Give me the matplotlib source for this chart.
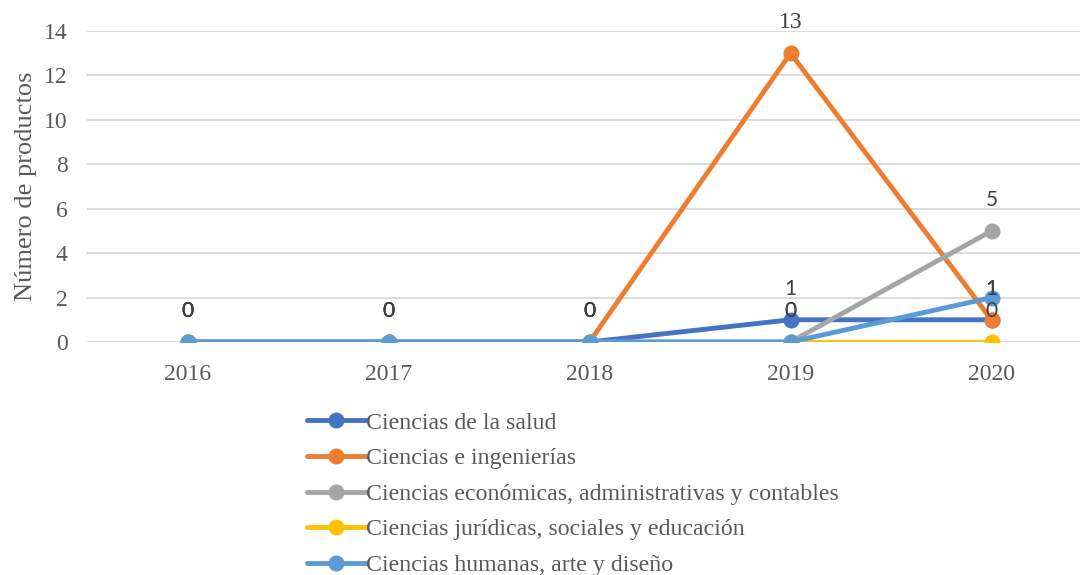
import matplotlib.pyplot as plt

# Datos
YEARS = ["2016", "2017", "2018", "2019", "2020"]
SALUD = [0, 0, 0, 1, 1]
INGENIERIAS = [0, 0, 0, 13, 1]
ECONOMICAS = [0, 0, 0, 0, 5]
JURIDICAS = [0, 0, 0, 0, 0]
HUMANAS = [0, 0, 0, 0, 2]

SERIES = [
    ("Ciencias de la salud", SALUD, "#4472C4", True),
    ("Ciencias e ingenierías", INGENIERIAS, "#ED7D31", True),
    ("Ciencias económicas, administrativas y contables", ECONOMICAS, "#A5A5A5", True),
    ("Ciencias jurídicas, sociales y educación", JURIDICAS, "#FFC000", True),
    ("Ciencias humanas, arte y diseño", HUMANAS, "#5B9BD5", False),
]

SERIF = "Liberation Serif"
GREY = "#595959"

fig = plt.figure(figsize=(10.8, 5.75), dpi=100)
ax = fig.add_axes([87 / 1080, 233 / 575, 1 - 87 / 1080, 311 / 575])

x = list(range(len(YEARS)))
for name, vals, color, _ in SERIES:
    ax.plot(x, vals, color=color, lw=3.5, marker="o", ms=10.5, label=name,
            solid_capstyle="round", zorder=3)

# etiquetas de datos (la serie de humanas no las tiene)
for name, vals, color, labelled in SERIES:
    if not labelled:
        continue
    for xi, v in zip(x, vals):
        big = v >= 10
        ax.annotate(f"{v}", (xi, v), xytext=(0, 22), textcoords="offset points",
                    ha="center", va="center", fontsize=17 if big else 15,
                    color="#404040", family=SERIF if big else "Lato", zorder=5)

ax.set_xlim(-0.5, 4.44)
ax.set_ylim(0, 14)
ax.set_yticks(range(0, 15, 2))
ax.set_xticks(x)
ax.set_xticklabels(YEARS)
ax.grid(axis="y", color="#D9D9D9", lw=1.3, zorder=0)
for s in ax.spines.values():
    s.set_visible(False)
ax.tick_params(length=0, labelsize=17, labelcolor=GREY)
ax.tick_params(axis="y", pad=14)
ax.tick_params(axis="x", pad=16)
for lab in ax.get_xticklabels() + ax.get_yticklabels():
    lab.set_family(SERIF)
ax.set_ylabel("Número de productos", family=SERIF, fontsize=19, color=GREY)
ax.yaxis.set_label_coords(-50 / 993, 0.5)

fig.legend(loc="upper left", bbox_to_anchor=(307 / 1080, 1 - 412 / 575),
           frameon=False, borderpad=0, borderaxespad=0, handlelength=2.45,
           handletextpad=0.0, labelspacing=0.58,
           prop={"family": SERIF, "size": 17.2}, labelcolor=GREY)

fig.savefig("out.png", dpi=100)
